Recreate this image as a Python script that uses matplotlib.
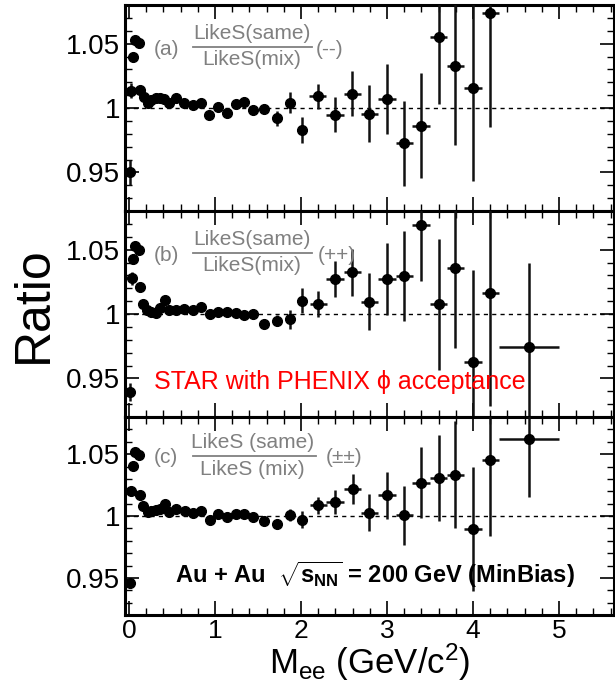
import matplotlib
matplotlib.use("Agg")
import matplotlib.pyplot as plt
from matplotlib.ticker import MultipleLocator

plt.rcParams['font.family'] = ['Liberation Sans', 'DejaVu Sans']
plt.rcParams['mathtext.fontset'] = 'custom'
plt.rcParams['mathtext.rm'] = 'Liberation Sans'
plt.rcParams['mathtext.it'] = 'Liberation Sans:italic'
plt.rcParams['mathtext.bf'] = 'Liberation Sans:bold'

# (a) like-sign (--) same/mix ratio
mass_a = [0.005, 0.025, 0.05, 0.07, 0.11, 0.13, 0.17, 0.215, 0.26, 0.31,
          0.36, 0.41, 0.47, 0.55, 0.64, 0.74, 0.84, 0.935, 1.04, 1.14,
          1.24, 1.34, 1.445, 1.57, 1.72, 1.87, 2.015, 2.195, 2.395, 2.595,
          2.795, 3.0, 3.2, 3.395, 3.6, 3.795, 4.0, 4.2]
ratio_a = [0.950, 1.0135, 1.0396, 1.053, 1.0503, 1.014, 1.0085, 1.0036, 1.0064, 1.0074,
           1.008, 1.0072, 1.0041, 1.0075, 1.0039, 1.0027, 1.0036, 0.9947, 1.0005, 0.9963,
           1.003, 1.0048, 0.9984, 0.9995, 0.9921, 1.0041, 0.9827, 1.009, 0.9948, 1.011,
           0.9956, 1.007, 0.9725, 0.9863, 1.0548, 1.0329, 1.0159, 1.0738]
err_a = [0.0095, 0.006, 0.003, 0.003, 0.003, 0.003, 0.002, 0.002, 0.002, 0.002,
         0.002, 0.002, 0.002, 0.002, 0.002, 0.002, 0.002, 0.002, 0.002, 0.002,
         0.003, 0.004, 0.004, 0.004, 0.0057, 0.008, 0.01, 0.01, 0.0137, 0.0174,
         0.022, 0.027, 0.033, 0.041, 0.0515, 0.062, 0.0725, 0.0885]
xerr_a = [0.005, 0.005, 0.01, 0.01, 0.01, 0.01, 0.02, 0.02, 0.02, 0.02,
          0.02, 0.02, 0.03, 0.05, 0.05, 0.05, 0.05, 0.05, 0.05, 0.05,
          0.05, 0.05, 0.05, 0.05, 0.05, 0.05, 0.06, 0.1, 0.1, 0.1,
          0.1, 0.1, 0.1, 0.1, 0.1, 0.1, 0.1, 0.1]

# (b) like-sign (++) same/mix ratio
mass_b = [0.005, 0.03, 0.05, 0.07, 0.11, 0.13, 0.16, 0.205, 0.26, 0.31,
          0.36, 0.42, 0.47, 0.55, 0.64, 0.74, 0.84, 0.94, 1.04, 1.14,
          1.24, 1.34, 1.445, 1.57, 1.72, 1.87, 2.015, 2.2, 2.395, 2.595,
          2.795, 3.0, 3.2, 3.395, 3.6, 3.795, 4.0, 4.2, 4.65]
ratio_b = [0.9393, 1.0279, 1.0427, 1.0526, 1.0495, 1.0209, 1.0076, 1.0031, 1.0018, 1.0005,
           1.0045, 1.0109, 1.0031, 1.0031, 1.0039, 1.0031, 1.0052, 0.9998, 1.0018, 1.0018,
           1.0005, 0.9992, 1.0, 0.9924, 0.9948, 0.9959, 1.0104, 1.008, 1.0271, 1.0323,
           1.0096, 1.0271, 1.0297, 1.0695, 1.0076, 1.0357, 0.9625, 1.0162, 0.9745]
err_b = [0.007, 0.005, 0.004, 0.003, 0.003, 0.003, 0.002, 0.002, 0.002, 0.002,
         0.002, 0.002, 0.002, 0.002, 0.002, 0.002, 0.002, 0.002, 0.002, 0.002,
         0.002, 0.003, 0.0036, 0.0036, 0.0044, 0.0075, 0.0098, 0.01, 0.014, 0.018,
         0.022, 0.028, 0.035, 0.0435, 0.051, 0.062, 0.072, 0.088, 0.065]
xerr_b = [0.005, 0.005, 0.01, 0.01, 0.01, 0.01, 0.02, 0.02, 0.02, 0.02,
          0.02, 0.02, 0.03, 0.05, 0.05, 0.05, 0.05, 0.05, 0.05, 0.05,
          0.05, 0.05, 0.05, 0.05, 0.05, 0.05, 0.06, 0.1, 0.1, 0.1,
          0.1, 0.1, 0.1, 0.1, 0.1, 0.1, 0.1, 0.1, 0.35]

# (c) like-sign (+-+-) geometric mean same/mix ratio
mass_c = [0.005, 0.025, 0.05, 0.07, 0.11, 0.13, 0.16, 0.215, 0.26, 0.31,
          0.36, 0.42, 0.47, 0.55, 0.645, 0.74, 0.84, 0.94, 1.04, 1.14,
          1.24, 1.34, 1.445, 1.57, 1.72, 1.87, 2.015, 2.2, 2.395, 2.6,
          2.795, 3.0, 3.2, 3.395, 3.6, 3.795, 4.0, 4.2, 4.65]
ratio_c = [0.9459, 1.02, 1.0406, 1.0519, 1.0492, 1.0173, 1.0081, 1.0032, 1.0041, 1.0046,
           1.0059, 1.0095, 1.0032, 1.0059, 1.0041, 1.0027, 1.0041, 0.997, 1.0014, 0.9992,
           1.0019, 1.0019, 0.9992, 0.996, 0.9932, 1.0006, 0.997, 1.0087, 1.0114, 1.0217,
           1.0027, 1.0168, 1.0006, 1.027, 1.0308, 1.0335, 0.9897, 1.0449, 1.0622]
err_c = [0.004, 0.003, 0.003, 0.002, 0.002, 0.002, 0.002, 0.002, 0.002, 0.002,
         0.002, 0.002, 0.002, 0.002, 0.002, 0.002, 0.002, 0.002, 0.002, 0.002,
         0.002, 0.002, 0.002, 0.003, 0.004, 0.005, 0.007, 0.0068, 0.01, 0.012,
         0.015, 0.019, 0.024, 0.029, 0.035, 0.043, 0.05, 0.061, 0.047]
xerr_c = xerr_b

panels = [
    (mass_a, ratio_a, err_a, xerr_a, "(a)", "LikeS(same)", "LikeS(mix)", "(--)"),
    (mass_b, ratio_b, err_b, xerr_b, "(b)", "LikeS(same)", "LikeS(mix)", "(++)"),
    (mass_c, ratio_c, err_c, xerr_c, "(c)", "LikeS (same)", "LikeS (mix)", "(\u00b1\u00b1)"),
]

fig = plt.figure(figsize=(6.15, 6.88), dpi=100)
gs = fig.add_gridspec(3, 1, left=0.2033, right=0.9984, top=0.9927, bottom=0.1061,
                      hspace=0, height_ratios=[206, 206, 198])

gray = '#808080'
axes = []
for i, (m, r, e, xe, tag, num, den, sign) in enumerate(panels):
    ax = fig.add_subplot(gs[i])
    axes.append(ax)
    ax.axhline(1.0, color='black', lw=1.0, ls=(0, (3, 3)), zorder=1)
    ax.errorbar(m, r, yerr=e, xerr=xe, fmt='o', ms=7, color='black',
                ecolor='#111111', elinewidth=1.8, capsize=0, zorder=3)
    ax.set_xlim(-0.047, 5.64)
    ax.set_ylim(0.92, 1.08)
    ax.set_yticks([0.95, 1.0, 1.05])
    ax.set_yticklabels(['0.95', '1', '1.05'])
    ax.yaxis.set_minor_locator(MultipleLocator(0.01))
    ax.xaxis.set_major_locator(MultipleLocator(1))
    ax.xaxis.set_minor_locator(MultipleLocator(0.2))
    ax.tick_params(which='both', direction='in', top=True, right=True, labelsize=20)
    ax.tick_params(axis='x', labelsize=19, pad=3)
    ax.tick_params(which='major', length=10, width=1.2)
    ax.tick_params(which='minor', length=5, width=1.0)
    for s in ax.spines.values():
        s.set_linewidth(2.2)
    if i < 2:
        ax.tick_params(labelbottom=False)

    # gray fraction label
    ytop = 0.864 if i < 2 else 0.87
    yline = 0.795 if i < 2 else 0.803
    ybot = 0.735 if i < 2 else 0.737
    xend = 0.383 if i < 2 else 0.39
    ax.text(0.084, yline - 0.01, tag, transform=ax.transAxes, color=gray,
            fontsize=15, ha='center', va='center')
    ax.text(0.26, ytop, num, transform=ax.transAxes, color=gray,
            fontsize=15, ha='center', va='center')
    ax.plot([0.138, xend], [yline, yline], transform=ax.transAxes,
            color=gray, lw=1.3)
    ax.text(0.26, ybot, den, transform=ax.transAxes, color=gray,
            fontsize=15, ha='center', va='center')
    ax.text(0.419 if i == 0 else (0.433 if i == 1 else 0.447), yline - 0.01, sign,
            transform=ax.transAxes, color=gray, fontsize=15, ha='center', va='center')

axes[1].text(0.44, 0.171, "STAR with PHENIX \u03d5 acceptance", transform=axes[1].transAxes,
             color='red', fontsize=18, ha='center', va='center')
axes[2].text(0.511, 0.202, r"Au + Au  $\mathbf{\sqrt{s_{NN}}}$ = 200 GeV (MinBias)",
             transform=axes[2].transAxes, color='black', fontsize=17,
             fontweight='bold', ha='center', va='center')

axes[2].set_xlabel(r"M$_{\rm ee}$ (GeV/c$^2$)", fontsize=25, labelpad=-1)
fig.text(0.055, 0.557, "Ratio", rotation=90, fontsize=36, ha='center', va='center')

fig.savefig("out.png", dpi=100)
